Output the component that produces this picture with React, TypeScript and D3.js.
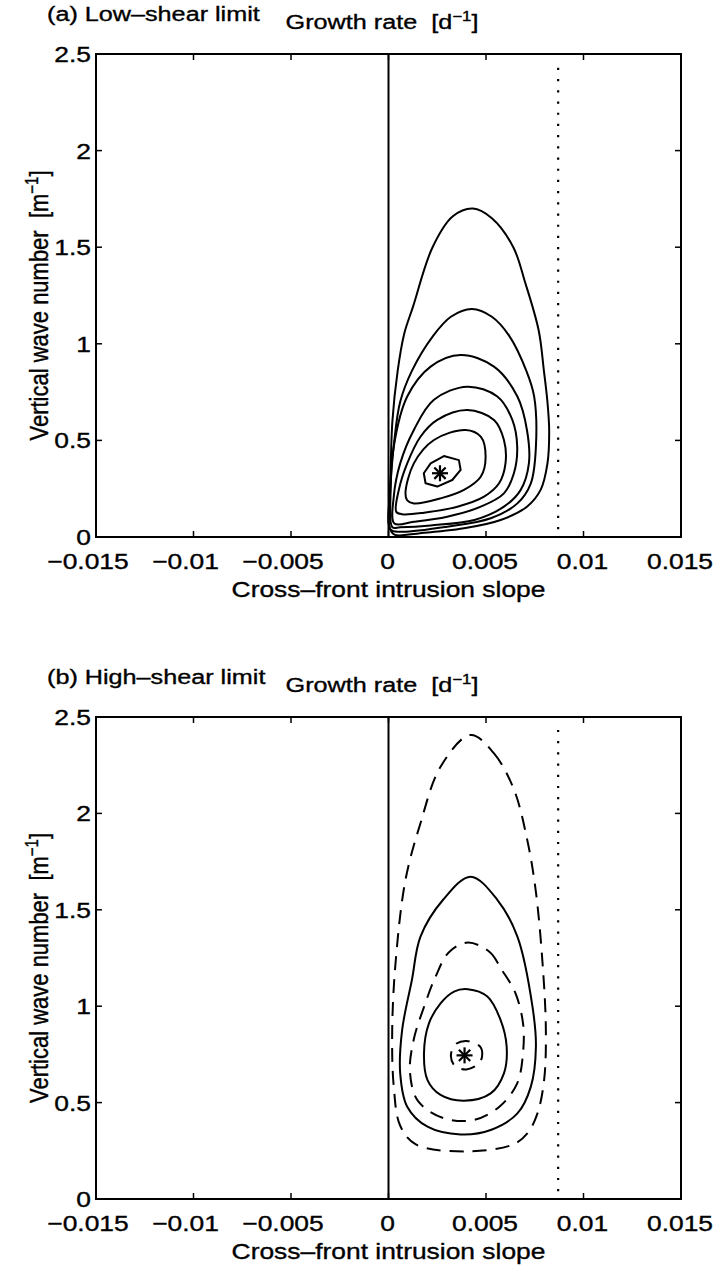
import React from 'react';
import * as d3 from 'd3';

type P = [number, number];

// ---------- axes / labels ----------
const xTicks = [-0.015, -0.01, -0.005, 0, 0.005, 0.01, 0.015];
const xTickLabels = ['−0.015', '−0.01', '−0.005', '0', '0.005', '0.01', '0.015'];
const yTicks = [0, 0.5, 1, 1.5, 2, 2.5];
const yTickLabels = ['0', '0.5', '1', '1.5', '2', '2.5'];
const xDomain: P = [-0.015, 0.015];
const yDomain: P = [0, 2.5];
const criticalSlope = 0.0087;
const xLabel = 'Cross–front intrusion slope';
const yLabelMain = 'Vertical wave number\u00a0\u00a0[m';
const titleMain = 'Growth rate\u00a0\u00a0[d';
const panelTitles = ['(a) Low–shear limit', '(b) High–shear limit'];

// ---------- panel (a): low-shear contours [slope, wavenumber] ----------
const lowC1: P[] = [[0.00005, 0.05], [0.0001, 0.3], [0.0002, 0.6], [0.00047, 0.86], [0.0008, 1.05], [0.00125, 1.19], [0.00226, 1.5], [0.0033, 1.66], [0.00433, 1.70], [0.0053, 1.65], [0.0064, 1.5], [0.0070, 1.32], [0.0077, 1.07], [0.00797, 0.86], [0.00815, 0.70], [0.00824, 0.55], [0.00815, 0.38], [0.0078, 0.244], [0.0071, 0.157], [0.00575, 0.088], [0.00387, 0.045], [0.00164, 0.02], [0.0003, 0.012]];
const lowC2: P[] = [[0.0001, 0.04], [0.0001, 0.25], [0.0003, 0.5], [0.0006, 0.7], [0.0012, 0.86], [0.00228, 1.04], [0.0032, 1.14], [0.00428, 1.18], [0.0053, 1.14], [0.0062, 1.04], [0.00707, 0.86], [0.00747, 0.727], [0.00756, 0.468], [0.0073, 0.278], [0.00661, 0.174], [0.00524, 0.097], [0.00301, 0.053], [0.0006, 0.027]];
const lowC3: P[] = [[0.0002, 0.05], [0.0001, 0.209], [0.00027, 0.468], [0.00096, 0.727], [0.00216, 0.882], [0.0037, 0.942], [0.00541, 0.882], [0.00661, 0.727], [0.0071, 0.554], [0.0072, 0.381], [0.00678, 0.244], [0.00592, 0.157], [0.0044, 0.088], [0.00216, 0.06], [0.0006, 0.05]];
const lowC4: P[] = [[0.0003, 0.07], [0.00027, 0.209], [0.0006, 0.381], [0.0013, 0.554], [0.00233, 0.71], [0.00404, 0.778], [0.00558, 0.727], [0.00635, 0.606], [0.0066, 0.468], [0.00643, 0.33], [0.00592, 0.226], [0.00473, 0.157], [0.00301, 0.105], [0.0013, 0.079]];
const lowC5: P[] = [[0.0004, 0.13], [0.00053, 0.244], [0.00096, 0.381], [0.00164, 0.519], [0.0025, 0.606], [0.00404, 0.657], [0.00541, 0.606], [0.00592, 0.502], [0.006, 0.381], [0.00567, 0.278], [0.0049, 0.209], [0.00353, 0.157], [0.00182, 0.126], [0.0007, 0.118]];
const lowC6: P[] = [[0.00087, 0.226], [0.0013, 0.381], [0.00233, 0.502], [0.00396, 0.554], [0.00473, 0.519], [0.00498, 0.416], [0.00473, 0.312], [0.00387, 0.244], [0.00267, 0.2], [0.0013, 0.174], [0.00096, 0.19]];
const lowC7: P[] = [[0.00216, 0.381], [0.00284, 0.419], [0.00361, 0.398], [0.0037, 0.347], [0.00327, 0.295], [0.0025, 0.261], [0.0019, 0.278], [0.00181, 0.33]];
const lowMax: P = [0.00264, 0.33];

// ---------- panel (b): high-shear contours ----------
const highC1: P[] = [[0.00421, 2.407], [0.00541, 2.311], [0.00644, 2.122], [0.00712, 1.86], [0.00755, 1.6], [0.0079, 1.223], [0.00807, 0.877], [0.00798, 0.617], [0.00764, 0.444], [0.00712, 0.34], [0.0064, 0.283], [0.0041, 0.247], [0.0014, 0.283], [0.0006, 0.38], [0.00027, 0.583], [0.00019, 0.877], [0.00036, 1.223], [0.00087, 1.655], [0.00164, 1.949], [0.00267, 2.242]];
const highC2: P[] = [[0.00421, 1.672], [0.00558, 1.552], [0.00661, 1.361], [0.00738, 1.0], [0.00756, 0.79], [0.0073, 0.583], [0.00661, 0.444], [0.00524, 0.358], [0.0037, 0.335], [0.002, 0.375], [0.00096, 0.479], [0.0006, 0.652], [0.0007, 0.877], [0.0012, 1.136], [0.00164, 1.361], [0.0028, 1.552]];
const highC3: P[] = [[0.00407, 1.33], [0.0052, 1.28], [0.0058, 1.19], [0.0065, 1.07], [0.0069, 0.91], [0.0069, 0.76], [0.0066, 0.60], [0.0057, 0.48], [0.0044, 0.41], [0.0028, 0.42], [0.0015, 0.51], [0.0011, 0.66], [0.0013, 0.83], [0.0018, 0.99], [0.0024, 1.15], [0.0031, 1.28]];
const highC4: P[] = [[0.00407, 1.088], [0.00507, 1.05], [0.00575, 0.928], [0.00606, 0.79], [0.00592, 0.652], [0.00524, 0.548], [0.00387, 0.51], [0.00267, 0.54], [0.002, 0.617], [0.00182, 0.756], [0.00207, 0.91], [0.00267, 1.015], [0.00336, 1.076]];
const highC5: P[] = [[0.0040, 0.82], [0.0047, 0.79], [0.0048, 0.74], [0.0046, 0.70], [0.0040, 0.672], [0.0034, 0.69], [0.0032, 0.74], [0.0034, 0.80]];
const highMax: P = [0.0039, 0.745];

type Contour = { pts: P[]; dashed: boolean; angular?: boolean };

const panels = [
  {
    title: panelTitles[0],
    top: 54,
    bottom: 537,
    contours: [lowC1, lowC2, lowC3, lowC4, lowC5, lowC6].map((pts) => ({ pts, dashed: false }) as Contour)
      .concat([{ pts: lowC7, dashed: false, angular: true }]),
    star: lowMax,
  },
  {
    title: panelTitles[1],
    top: 717,
    bottom: 1199,
    contours: [
      { pts: highC1, dashed: true },
      { pts: highC2, dashed: false },
      { pts: highC3, dashed: true },
      { pts: highC4, dashed: false },
      { pts: highC5, dashed: true },
    ] as Contour[],
    star: highMax,
  },
];

const LEFT = 96;
const RIGHT = 681;
const FONT = '"Liberation Sans", Arial, Helvetica, sans-serif';
const SX = 1.2; // horizontal glyph stretch of the scanned original
const FS = 22;

function Txt(props: { x: number; y: number; anchor?: string; size?: number; rotate?: boolean; children: React.ReactNode }) {
  const { x, y, anchor = 'start', size = FS, rotate = false, children } = props;
  const tf = rotate ? `translate(${x},${y}) rotate(-90) scale(1,${SX})` : `translate(${x},${y}) scale(${SX},1)`;
  return (
    <text transform={tf} textAnchor={anchor} fontSize={size} fontFamily={FONT} fill="#000" stroke="#000"
      strokeWidth={0.35} style={{ whiteSpace: 'pre' }}>
      {children}
    </text>
  );
}

function Panel(props: { p: (typeof panels)[number] }) {
  const { p } = props;
  const x = d3.scaleLinear().domain(xDomain).range([LEFT, RIGHT]);
  const y = d3.scaleLinear().domain(yDomain).range([p.bottom, p.top]);
  const smooth = d3.line<P>().x((d) => x(d[0])).y((d) => y(d[1])).curve(d3.curveCatmullRomClosed.alpha(0.5));
  const sharp = d3.line<P>().x((d) => x(d[0])).y((d) => y(d[1])).curve(d3.curveLinearClosed);
  const tick = 6;
  const cx = x(p.star[0]);
  const cy = y(p.star[1]);
  const r = 8;
  const midY = (p.top + p.bottom) / 2;
  return (
    <g>
      {p.contours.map((c, i) => (
        <path key={i} d={(c.angular ? sharp : smooth)(c.pts) || ''} fill="none" stroke="#000" strokeWidth={2}
          strokeDasharray={c.dashed ? '14 9' : undefined} strokeLinejoin="round" />
      ))}
      <line x1={x(0)} x2={x(0)} y1={y(0)} y2={y(2.5)} stroke="#000" strokeWidth={2} />
      <line x1={x(criticalSlope)} x2={x(criticalSlope)} y1={y(0.04)} y2={y(2.46)} stroke="#000" strokeWidth={2.2}
        strokeDasharray="2.2 9" />
      {[0, 45, 90, 135].map((a) => {
        const rad = (a * Math.PI) / 180;
        return <line key={a} x1={cx - r * Math.cos(rad)} y1={cy - r * Math.sin(rad)} x2={cx + r * Math.cos(rad)} y2={cy + r * Math.sin(rad)} stroke="#000" strokeWidth={2.2} />;
      })}
      <rect x={LEFT} y={p.top} width={RIGHT - LEFT} height={p.bottom - p.top} fill="none" stroke="#000" strokeWidth={2} />
      {xTicks.map((t, i) => (
        <g key={'x' + i}>
          <line x1={x(t)} x2={x(t)} y1={p.bottom} y2={p.bottom - tick} stroke="#000" strokeWidth={1.5} />
          <line x1={x(t)} x2={x(t)} y1={p.top} y2={p.top + tick} stroke="#000" strokeWidth={1.5} />
          <Txt x={x(t) - (t < 0 ? 8 : 1)} y={p.bottom + 32} anchor="middle">{xTickLabels[i]}</Txt>
        </g>
      ))}
      {yTicks.map((t, i) => (
        <g key={'y' + i}>
          <line x1={LEFT} x2={LEFT + tick} y1={y(t)} y2={y(t)} stroke="#000" strokeWidth={1.5} />
          <line x1={RIGHT} x2={RIGHT - tick} y1={y(t)} y2={y(t)} stroke="#000" strokeWidth={1.5} />
          <Txt x={LEFT - 5} y={y(t) + 8} anchor="end">{yTickLabels[i]}</Txt>
        </g>
      ))}
      <Txt x={(LEFT + RIGHT) / 2} y={p.bottom + 60} anchor="middle">{xLabel}</Txt>
      <Txt x={48} y={midY + 10} anchor="middle" rotate>
        <tspan>{yLabelMain}</tspan>
        <tspan dy={-8} fontSize={15}>−1</tspan>
        <tspan dy={8}>]</tspan>
      </Txt>
      <Txt x={47} y={p.top - 33} size={21}>{p.title}</Txt>
      <Txt x={382} y={p.top - 25} anchor="middle" size={21}>
        <tspan>{titleMain}</tspan>
        <tspan dy={-8} fontSize={14}>−1</tspan>
        <tspan dy={8}>]</tspan>
      </Txt>
    </g>
  );
}

export default function App() {
  return (
    <svg width={718} height={1268} style={{ position: 'absolute', left: 0, top: 0, background: '#fff' }}>
      <rect width={718} height={1268} fill="#fff" />
      {panels.map((p, i) => (
        <Panel key={i} p={p} />
      ))}
    </svg>
  );
}
